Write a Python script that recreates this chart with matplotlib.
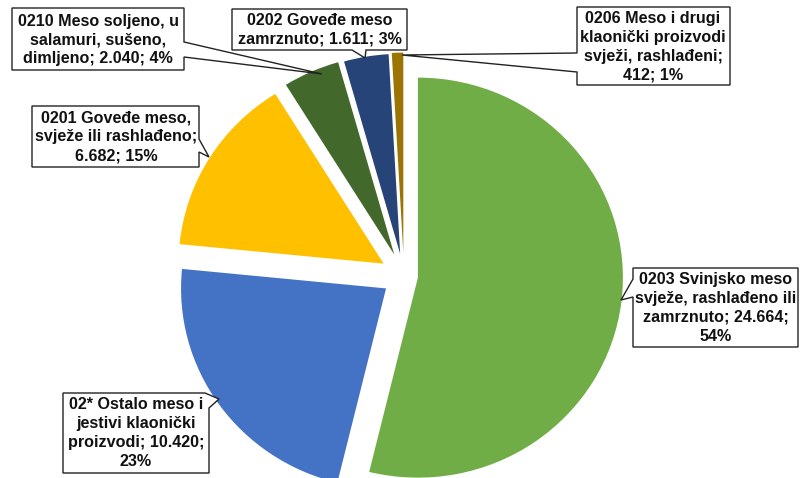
import matplotlib
matplotlib.use("Agg")
import matplotlib.pyplot as plt
from matplotlib.patches import Polygon

plt.rcParams['font.family'] = ['Liberation Sans', 'DejaVu Sans']

# ---- data ----
categories = [
    "0203 Svinjsko meso svježe, rashlađeno ili zamrznuto",
    "02* Ostalo meso i jestivi klaonički proizvodi",
    "0201 Goveđe meso, svježe ili rashlađeno",
    "0210 Meso soljeno, u salamuri, sušeno, dimljeno",
    "0202 Goveđe meso zamrznuto",
    "0206 Meso i drugi klaonički proizvodi svježi, rashlađeni",
]
values = [24664, 10420, 6682, 2040, 1611, 412]
value_labels = ["24.664", "10.420", "6.682", "2.040", "1.611", "412"]
pct_labels = ["54%", "23%", "15%", "4%", "3%", "1%"]
label_lines = [
    ["0203 Svinjsko meso", "svježe, rashlađeno ili", "zamrznuto; {v};", "{p}"],
    ["02* Ostalo meso i", "jestivi klaonički", "proizvodi; {v};", "{p}"],
    ["0201 Goveđe meso,", "svježe ili rashlađeno;", "{v}; {p}"],
    ["0210 Meso soljeno, u", "salamuri, sušeno,", "dimljeno; {v}; {p}"],
    ["0202 Goveđe meso", "zamrznuto; {v}; {p}"],
    ["0206 Meso i drugi", "klaonički proizvodi", "svježi, rashlađeni;", "{v}; {p}"],
]
colors = ["#70AD47", "#4472C4", "#FFC000", "#43682B", "#264478", "#9C7404"]

# ---- layout (pixel units, y from top) ----
W, H = 800, 478
center_px = (404, 276)
rx, ry = 205, 200          # slightly stretched horizontally, as in the reference
k = rx / ry
explode_px = [14, 22, 24, 24, 23, 24]

callouts = [
    dict(poly=[(633, 268), (798, 268), (798, 347), (633, 347), (633, 297), (621, 300), (633, 279)],
         text=(716, 308)),
    dict(poly=[(63, 393), (205, 393), (219, 399), (209, 408), (209, 473), (63, 473)],
         text=(136, 433)),
    dict(poly=[(32, 106), (199, 106), (199, 139), (209, 157), (199, 152), (199, 167), (32, 167)],
         text=(116, 137)),
    dict(poly=[(12, 8), (184, 8), (184, 42), (322, 74), (184, 57), (184, 70), (12, 70)],
         text=(98, 40)),
    dict(poly=[(232, 9), (407, 9), (407, 50), (366, 50), (365, 58), (352, 50), (232, 50)],
         text=(320, 30)),
    dict(poly=[(577, 7), (730, 7), (730, 85), (577, 85), (577, 72), (402, 55), (577, 53)],
         text=(653, 47)),
]

def P(x, y):
    return (x, (H - y) * k)

fig = plt.figure(figsize=(W / 100, H / 100), dpi=100)
ax = fig.add_axes([0, 0, 1, 1])
ax.pie(values, colors=colors, startangle=90, counterclock=False,
       center=P(*center_px), radius=rx, explode=explode_px,
       wedgeprops=dict(linewidth=0))
ax.set_xlim(0, W)
ax.set_ylim(0, H * k)
ax.set_aspect('auto')
ax.axis('off')

for i, c in enumerate(callouts):
    poly = Polygon([P(x, y) for x, y in c["poly"]], closed=True,
                   facecolor='white', edgecolor='#222222', linewidth=1.0, zorder=5)
    ax.add_patch(poly)
    txt = "\n".join(l.format(v=value_labels[i], p=pct_labels[i]) for l in label_lines[i])
    ax.text(*P(*c["text"]), txt, ha='center', va='center', fontsize=11.6,
            fontweight='bold', color='#111111', linespacing=1.32, zorder=6)

fig.savefig("out.png", dpi=100)
